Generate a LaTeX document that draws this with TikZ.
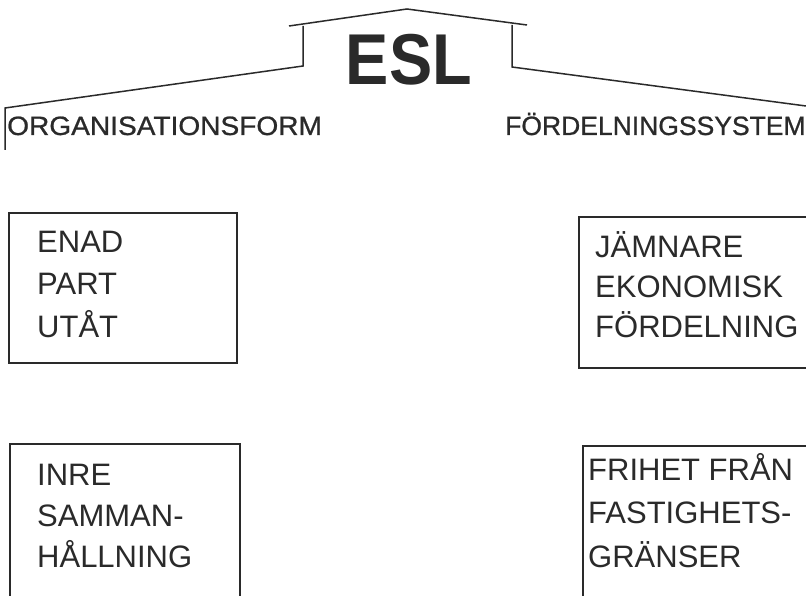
\documentclass[tikz,border=0pt]{standalone}
\usepackage{fontspec}
\usepackage{graphicx}
\setmainfont{Liberation Sans}
\newfontfamily\headfont[FakeBold=0.8]{Liberation Sans}
\definecolor{ink}{HTML}{2A2A2A}
\tikzset{
  roofline/.style={draw=ink, line width=1.5pt, line join=miter},
  frame/.style={draw=ink, line width=2.2pt, anchor=north west, inner sep=0pt},
  boxtext/.style={text=ink, anchor=base west, inner sep=0pt, align=left,
    font=\fontsize{31}{42}\selectfont},
  heading/.style={text=ink, anchor=base west, inner sep=0pt,
    font=\headfont\fontsize{26.5}{30}\selectfont},
}
\begin{document}
\begin{tikzpicture}[x=1pt,y=-1pt]
  \useasboundingbox (0,0) rectangle (806,596);
  \clip (0,0) rectangle (806,596);
  \fill[white] (0,0) rectangle (806,596);

  % roof outline
  \coordinate (lfoot) at (5,150);
  \coordinate (leave) at (5,108);
  \coordinate (lwallb) at (303,66);
  \coordinate (lwallt) at (303,26);
  \coordinate (lroof) at (289,26);
  \coordinate (peak) at (407,9);
  \coordinate (rroof) at (527,25);
  \coordinate (rwallt) at (512,25);
  \coordinate (rwallb) at (512,67);
  \coordinate (reave) at (806,106);
  \draw[roofline] (lfoot) -- (leave) -- (lwallb) -- (lwallt);
  \draw[roofline] (lroof) -- (peak) -- (rroof);
  \draw[roofline] (rwallt) -- (rwallb) -- (reave);

  % title
  \node[text=ink, anchor=base, inner sep=0pt,
        font=\fontsize{72}{80}\selectfont\bfseries] (title) at (409,85)
        {\scalebox{0.9}[1]{ESL}};

  % column headings
  \node[heading] (hleft) at (7,135) {\scalebox{1.06}[1]{ORGANISATIONSFORM}};
  \node[heading] (hright) at (505,135) {FÖRDELNINGSSYSTEM};

  % boxes
  \node[frame, minimum width=228, minimum height=150] (b1) at (8,212) {};
  \node[frame, minimum width=242, minimum height=151] (b2) at (578,216) {};
  \node[frame, minimum width=230, minimum height=180] (b3) at (9,443) {};
  \node[frame, minimum width=240, minimum height=180] (b4) at (582,445) {};

  % box contents, placed by the baseline of their last line
  \node[boxtext, font=\fontsize{31}{42.5}\selectfont] (t1) at (37,337)
        {ENAD\\PART\\UTÅT};
  \node[boxtext, font=\fontsize{31}{40}\selectfont] (t2) at (595,337)
        {JÄMNARE\\EKONOMISK\\FÖRDELNING};
  \node[boxtext, font=\fontsize{31}{41}\selectfont] (t3) at (37,567)
        {INRE\\SAMMAN-\\HÅLLNING};
  \node[boxtext, font=\fontsize{31}{43.5}\selectfont] (t4) at (588,567)
        {FRIHET FRÅN\\FASTIGHETS-\\GRÄNSER};
\end{tikzpicture}
\end{document}
